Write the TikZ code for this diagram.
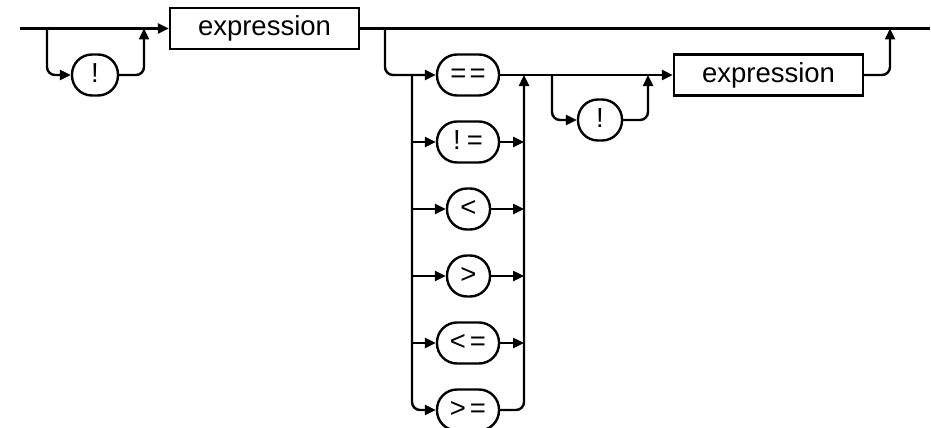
\documentclass[tikz,border=0pt]{standalone}
\usepackage{fontspec}
\setmainfont{Liberation Sans}
\usetikzlibrary{arrows.meta}
\begin{document}
\begin{tikzpicture}[x=1pt,y=-1pt,
  line width=2.4pt,
  rr/.style={rounded corners=8pt},
  arr/.style={-{Triangle[length=11pt,width=10pt]}},
  lbl/.style={inner sep=0pt, text height=19pt, text depth=4pt, font=\fontsize{27.5}{32}\selectfont},
  term/.style={lbl, draw, rounded corners=20pt, minimum height=41pt},
  nonterm/.style={lbl, draw, rectangle, minimum height=41pt, minimum width=189pt},
]
\useasboundingbox (0,0) rectangle (931,428);
% coordinates
\coordinate (s) at (20,28.5);
\coordinate (t) at (930,28.5);
\coordinate (j1) at (47,28.5);
\coordinate (j2) at (144,28.5);
\coordinate (j3) at (385,28.5);
\coordinate (lv) at (412,75);
\coordinate (rv) at (524,75);
\coordinate (j4) at (552,75);
\coordinate (j5) at (648,75);
\coordinate (j6) at (890,28.5);
% nodes
\node[term, minimum width=46pt] (b1) at (95,75) {!};
\node[nonterm] (e1) at (264.5,28.5) {expression};
\node[term, minimum width=62pt] (eq) at (468,75) {=\kern3pt=};
\node[term, minimum width=62pt] (ne) at (468,142) {!\kern6pt=};
\node[term, minimum width=43pt] (lt) at (468.5,209) {<};
\node[term, minimum width=43pt] (gt) at (468.5,276) {>};
\node[term, minimum width=62pt] (le) at (468,343) {<\kern4pt=};
\node[term, minimum width=62pt] (ge) at (468,410) {>\kern4pt=};
\node[term, minimum width=44pt] (b2) at (600,120) {!};
\node[nonterm] (e2) at (768.5,75) {expression};
% main line
\draw[arr] (s) -- (e1.west);
\draw (e1.east) -- (t);
% optional !
\draw[rr,arr] (j1) |- (b1.west);
\draw[rr,arr] (b1.east) -| (j2);
% optional comparison part
\draw[rr,arr] (j3) |- (eq.west);
\draw[rr,arr] (lv) |- (ge.west);
\foreach \n in {ne,lt,gt,le}{
  \draw[arr] (\n.west -| lv) -- (\n.west);
  \draw[arr] (\n.east) -- (\n.east -| rv);
}
\draw[rr,arr] (ge.east) -| (rv);
\draw[arr] (eq.east) -- (e2.west);
\draw[rr,arr] (j4) |- (b2.west);
\draw[rr,arr] (b2.east) -| (j5);
\draw[rr,arr] (e2.east) -| (j6);
\end{tikzpicture}
\end{document}
